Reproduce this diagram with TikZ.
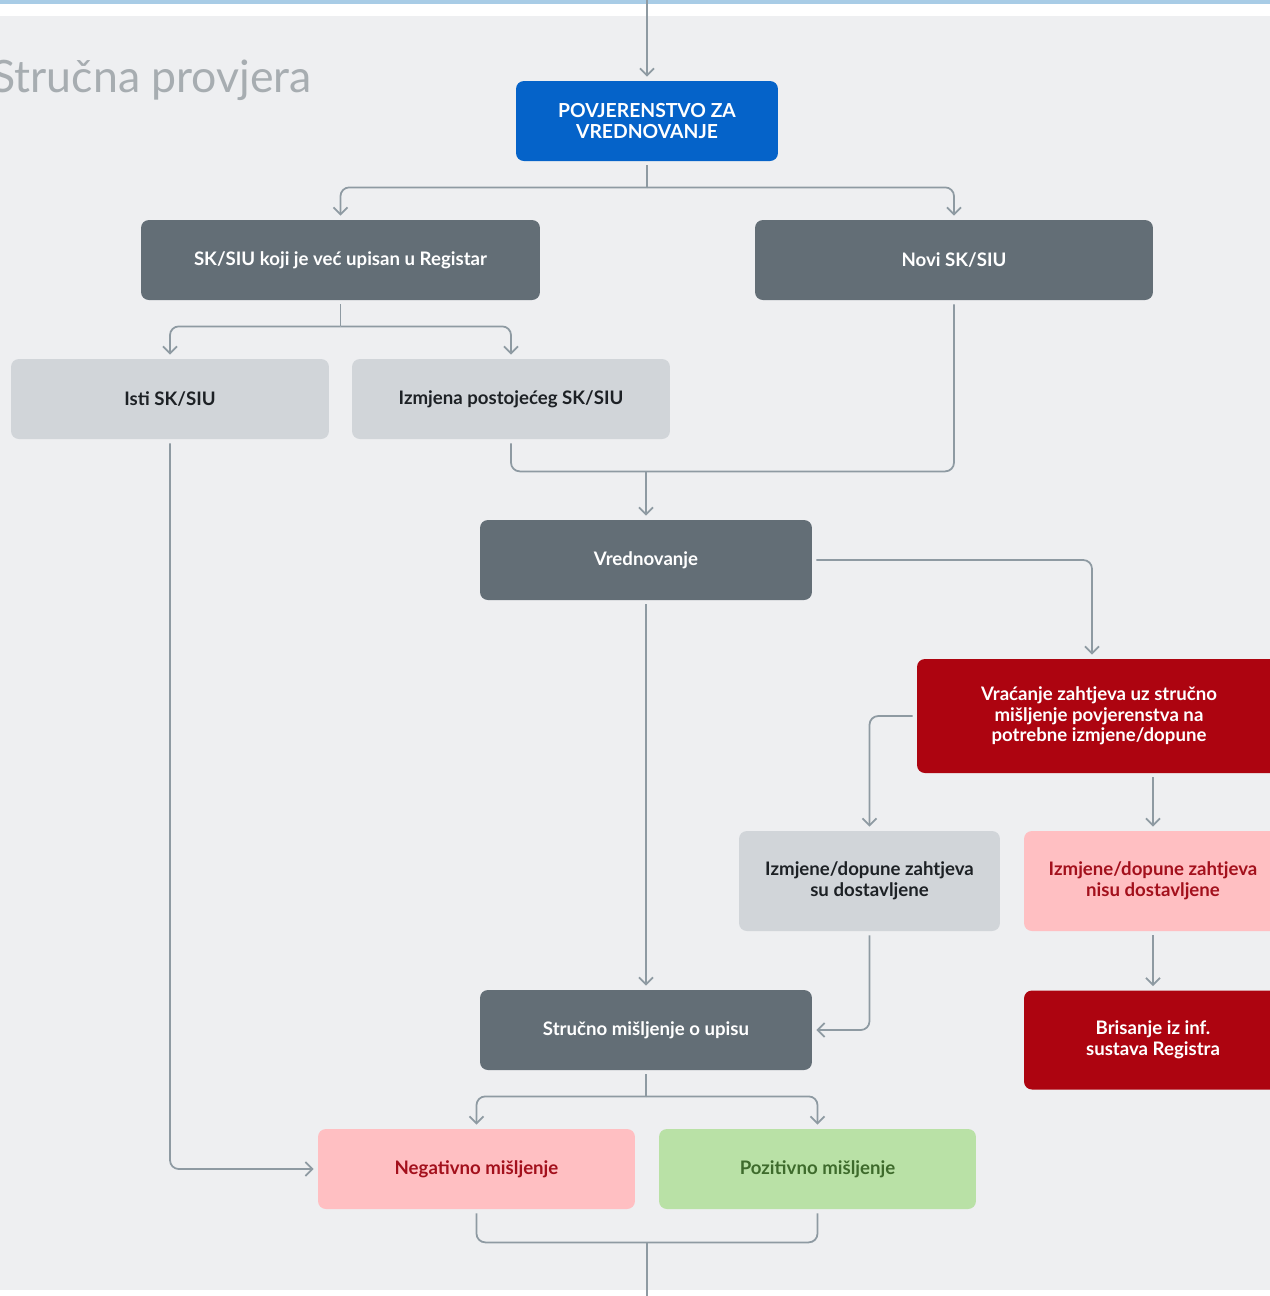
\documentclass[tikz,border=0pt]{standalone}
\usepackage{fontspec}
\setmainfont{Lato}
\usetikzlibrary{arrows.meta}
\definecolor{panel}{HTML}{EEEFF1}
\definecolor{pruga}{HTML}{A8CCE6}
\definecolor{povjplava}{HTML}{0563C9}
\definecolor{tamnosiva}{HTML}{636E76}
\definecolor{svijetlosiva}{HTML}{D1D5D9}
\definecolor{crvena}{HTML}{AD0410}
\definecolor{ruzicasta}{HTML}{FFBFC2}
\definecolor{ruzicastitekst}{HTML}{A3101C}
\definecolor{zelena}{HTML}{B9E1A6}
\definecolor{zelenitekst}{HTML}{3E6B2C}
\definecolor{linija}{HTML}{8E9AA2}
\definecolor{naslovsiva}{HTML}{A7ADB1}
\definecolor{tamnitekst}{HTML}{1D2125}

\begin{document}
\begin{tikzpicture}[x=0.02cm, y=-0.02cm,
	box/.style={rounded corners=4.5pt, align=center, inner sep=0pt, outer sep=2.5pt,
		minimum height=1.6cm, font=\bfseries\fontsize{10.6}{11.8}\selectfont},
	tamnibox/.style={box, fill=tamnosiva, text=white},
	svijetlibox/.style={box, fill=svijetlosiva, text=tamnitekst},
	crvenibox/.style={box, fill=crvena, text=white},
	ruzibox/.style={box, fill=ruzicasta, text=ruzicastitekst},
	zelenibox/.style={box, fill=zelena, text=zelenitekst},
	tok/.style={draw=linija, line width=1pt, rounded corners=5pt},
	strelica/.style={tok, -{Straight Barb[length=4pt,width=8pt]}}]
	\useasboundingbox (0,0) rectangle (1270,1296);
	\fill[white] (0,0) rectangle (1270,1296);
	\fill[panel] (0,16) rectangle (1270,1290);
	\fill[pruga] (0,0) rectangle (1270,4);

	\node[anchor=base west, inner sep=0pt, text=naslovsiva, font=\fontsize{25.4}{28}\selectfont] (naslov) at (-9,92) {Stručna provjera};

	\node[box, fill=povjplava, text=white, minimum width=5.24cm, font=\bfseries\fontsize{11}{12}\selectfont] (povj) at (647,121) {POVJERENSTVO ZA\\VREDNOVANJE};
	\node[tamnibox, minimum width=7.98cm] (upisan) at (340.5,260) {SK/SIU koji je već upisan u Registar};
	\node[tamnibox, minimum width=7.96cm] (novi) at (954,260) {Novi SK/SIU};
	\node[svijetlibox, minimum width=6.36cm] (isti) at (170,399) {Isti SK/SIU};
	\node[svijetlibox, minimum width=6.36cm] (izmjena) at (511,399) {Izmjena postojećeg SK/SIU};
	\node[tamnibox, minimum width=6.64cm] (vred) at (646,560) {Vrednovanje};
	\node[crvenibox, minimum width=7.28cm, minimum height=2.28cm] (vracanje) at (1099,716) {Vraćanje zahtjeva uz stručno\\mišljenje povjerenstva na\\potrebne izmjene/dopune};
	\node[svijetlibox, minimum width=5.22cm, minimum height=2cm] (dostavljene) at (869.5,881) {Izmjene/dopune zahtjeva\\su dostavljene};
	\node[ruzibox, minimum width=5.16cm, minimum height=2cm] (nisu) at (1153,881) {Izmjene/dopune zahtjeva\\nisu dostavljene};
	\node[crvenibox, minimum width=5.16cm, minimum height=1.98cm] (brisanje) at (1153,1040) {Brisanje iz inf.\\sustava Registra};
	\node[tamnibox, minimum width=6.64cm] (misljenje) at (646,1030) {Stručno mišljenje o upisu};
	\node[ruzibox, minimum width=6.34cm] (negativno) at (476.5,1169) {Negativno mišljenje};
	\node[zelenibox, minimum width=6.34cm] (pozitivno) at (817.5,1169) {Pozitivno mišljenje};

	\coordinate (ulaz) at (647,0);
	\coordinate (izlaz) at (647,1296);
	\coordinate (vrulaz) at ([xshift=-0.14cm]vracanje.north);

	\draw[strelica] (ulaz) -- (povj.north);
	\draw[tok] (povj.south) -- ++(0,22) coordinate (g1);
	\draw[strelica] (g1) -| (upisan.north);
	\draw[strelica] (g1) -| (novi.north);
	\draw[tok] (upisan.south) -- ++(0,22) coordinate (g2);
	\draw[strelica] (g2) -| (isti.north);
	\draw[strelica] (g2) -| (izmjena.north);
	\draw[tok] (izmjena.south) -- ++(0,28) coordinate (g3) -| (novi.south);
	\draw[strelica] (g3 -| vred.north) -- (vred.north);
	\draw[strelica] (vred.east) -| (vrulaz);
	\draw[strelica] (vracanje.west) -| (dostavljene.north);
	\draw[strelica] (vracanje.south -| nisu.north) -- (nisu.north);
	\draw[strelica] (nisu.south) -- (brisanje.north);
	\draw[strelica] (vred.south) -- (misljenje.north);
	\draw[strelica] (dostavljene.south) |- (misljenje.east);
	\draw[tok] (misljenje.south) -- ++(0,22) coordinate (g4);
	\draw[strelica] (g4) -| (negativno.north);
	\draw[strelica] (g4) -| (pozitivno.north);
	\draw[strelica] (isti.south) |- (negativno.west);
	\draw[tok] (negativno.south) -- ++(0,29) coordinate (g5) -| (pozitivno.south);
	\draw[tok] (g5 -| izlaz) -- (izlaz);
\end{tikzpicture}
\end{document}
